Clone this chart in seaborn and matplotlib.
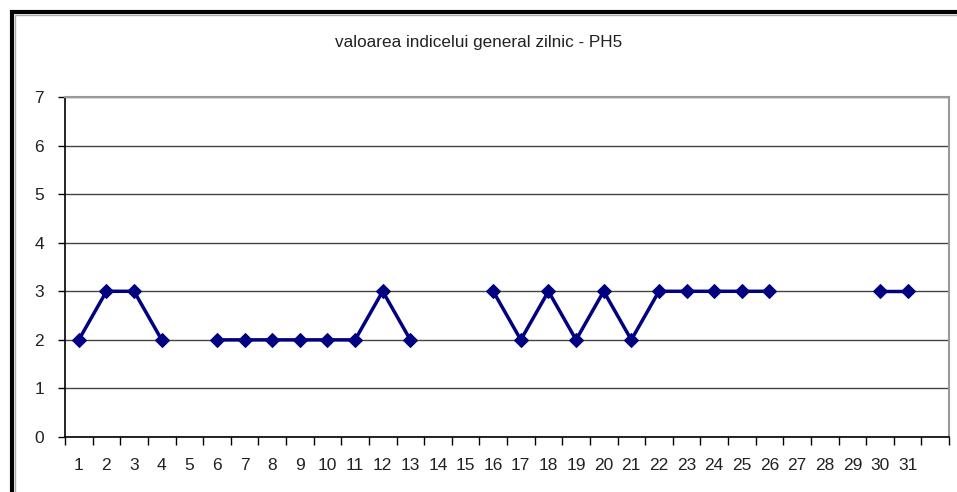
import numpy as np
import pandas as pd
import matplotlib
matplotlib.use("Agg")
import matplotlib.pyplot as plt
from matplotlib.patches import Rectangle
import seaborn as sns

days = list(range(1, 32))
values = [2, 3, 3, 2, np.nan, 2, 2, 2, 2, 2, 2, 3, 2, np.nan, np.nan,
          3, 2, 3, 2, 3, 2, 3, 3, 3, 3, 3, np.nan, np.nan, np.nan, 3, 3]
title = "valoarea indicelui general zilnic - PH5"

sns.set_style("white")
plt.rcParams['font.family'] = ['Liberation Sans', 'DejaVu Sans']

df = pd.DataFrame({"day": days, "value": values})
seg = df["value"].isna().cumsum()
df["seg"] = seg
df = df.dropna()

fig = plt.figure(figsize=(9.57, 4.92), dpi=100)
ax = fig.add_axes([65/957, 55/492, 884/957, 340/492])

sns.lineplot(data=df, x="day", y="value", units="seg", estimator=None,
             color="#000080", linewidth=2.5, marker="D", markersize=7,
             markeredgecolor="#000080", ax=ax, legend=False)

ax.set_xlim(0.5, 32.5)
ax.set_ylim(0, 7)
ax.set_xticks(days)
ax.set_xticklabels([str(d) for d in days], fontsize=12.5)
ax.set_xticks(np.arange(0.5, 33, 1), minor=True)
ax.tick_params(axis="x", which="major", bottom=True, length=0, pad=15, colors="#222222")
ax.tick_params(axis="x", which="minor", bottom=True, length=6, direction="out", color="black", width=1)
ax.set_yticks(range(0, 8))
ax.set_yticklabels([str(v) for v in range(0, 8)], fontsize=12.5)
ax.tick_params(axis="y", left=True, length=5, direction="out", color="black", width=1, pad=10,
               labelcolor="#222222")
ax.set_xlabel("")
ax.set_ylabel("")
ax.grid(axis="y", color="#444444", linewidth=1)
ax.grid(axis="x", visible=False)
for s in ["top", "right"]:
    ax.spines[s].set_color("#999999")
    ax.spines[s].set_linewidth(1.5)
for s in ["left", "bottom"]:
    ax.spines[s].set_color("black")
    ax.spines[s].set_linewidth(1.2)
ax.set_axisbelow(True)

fig.text(0.5, 1 - 42/492, title, ha="center", va="center", fontsize=12.3, color="#222222")

fig.patches.append(Rectangle((12/957, -0.1), 1.2, 1 - 12/492 + 0.1,
                             transform=fig.transFigure, fill=False,
                             edgecolor="black", linewidth=3))
fig.patches.append(Rectangle((15/957, -0.1), 1.2, 1 - 15/492 + 0.1,
                             transform=fig.transFigure, fill=False,
                             edgecolor="#aaaaaa", linewidth=1))

fig.savefig("out.png", dpi=100)
